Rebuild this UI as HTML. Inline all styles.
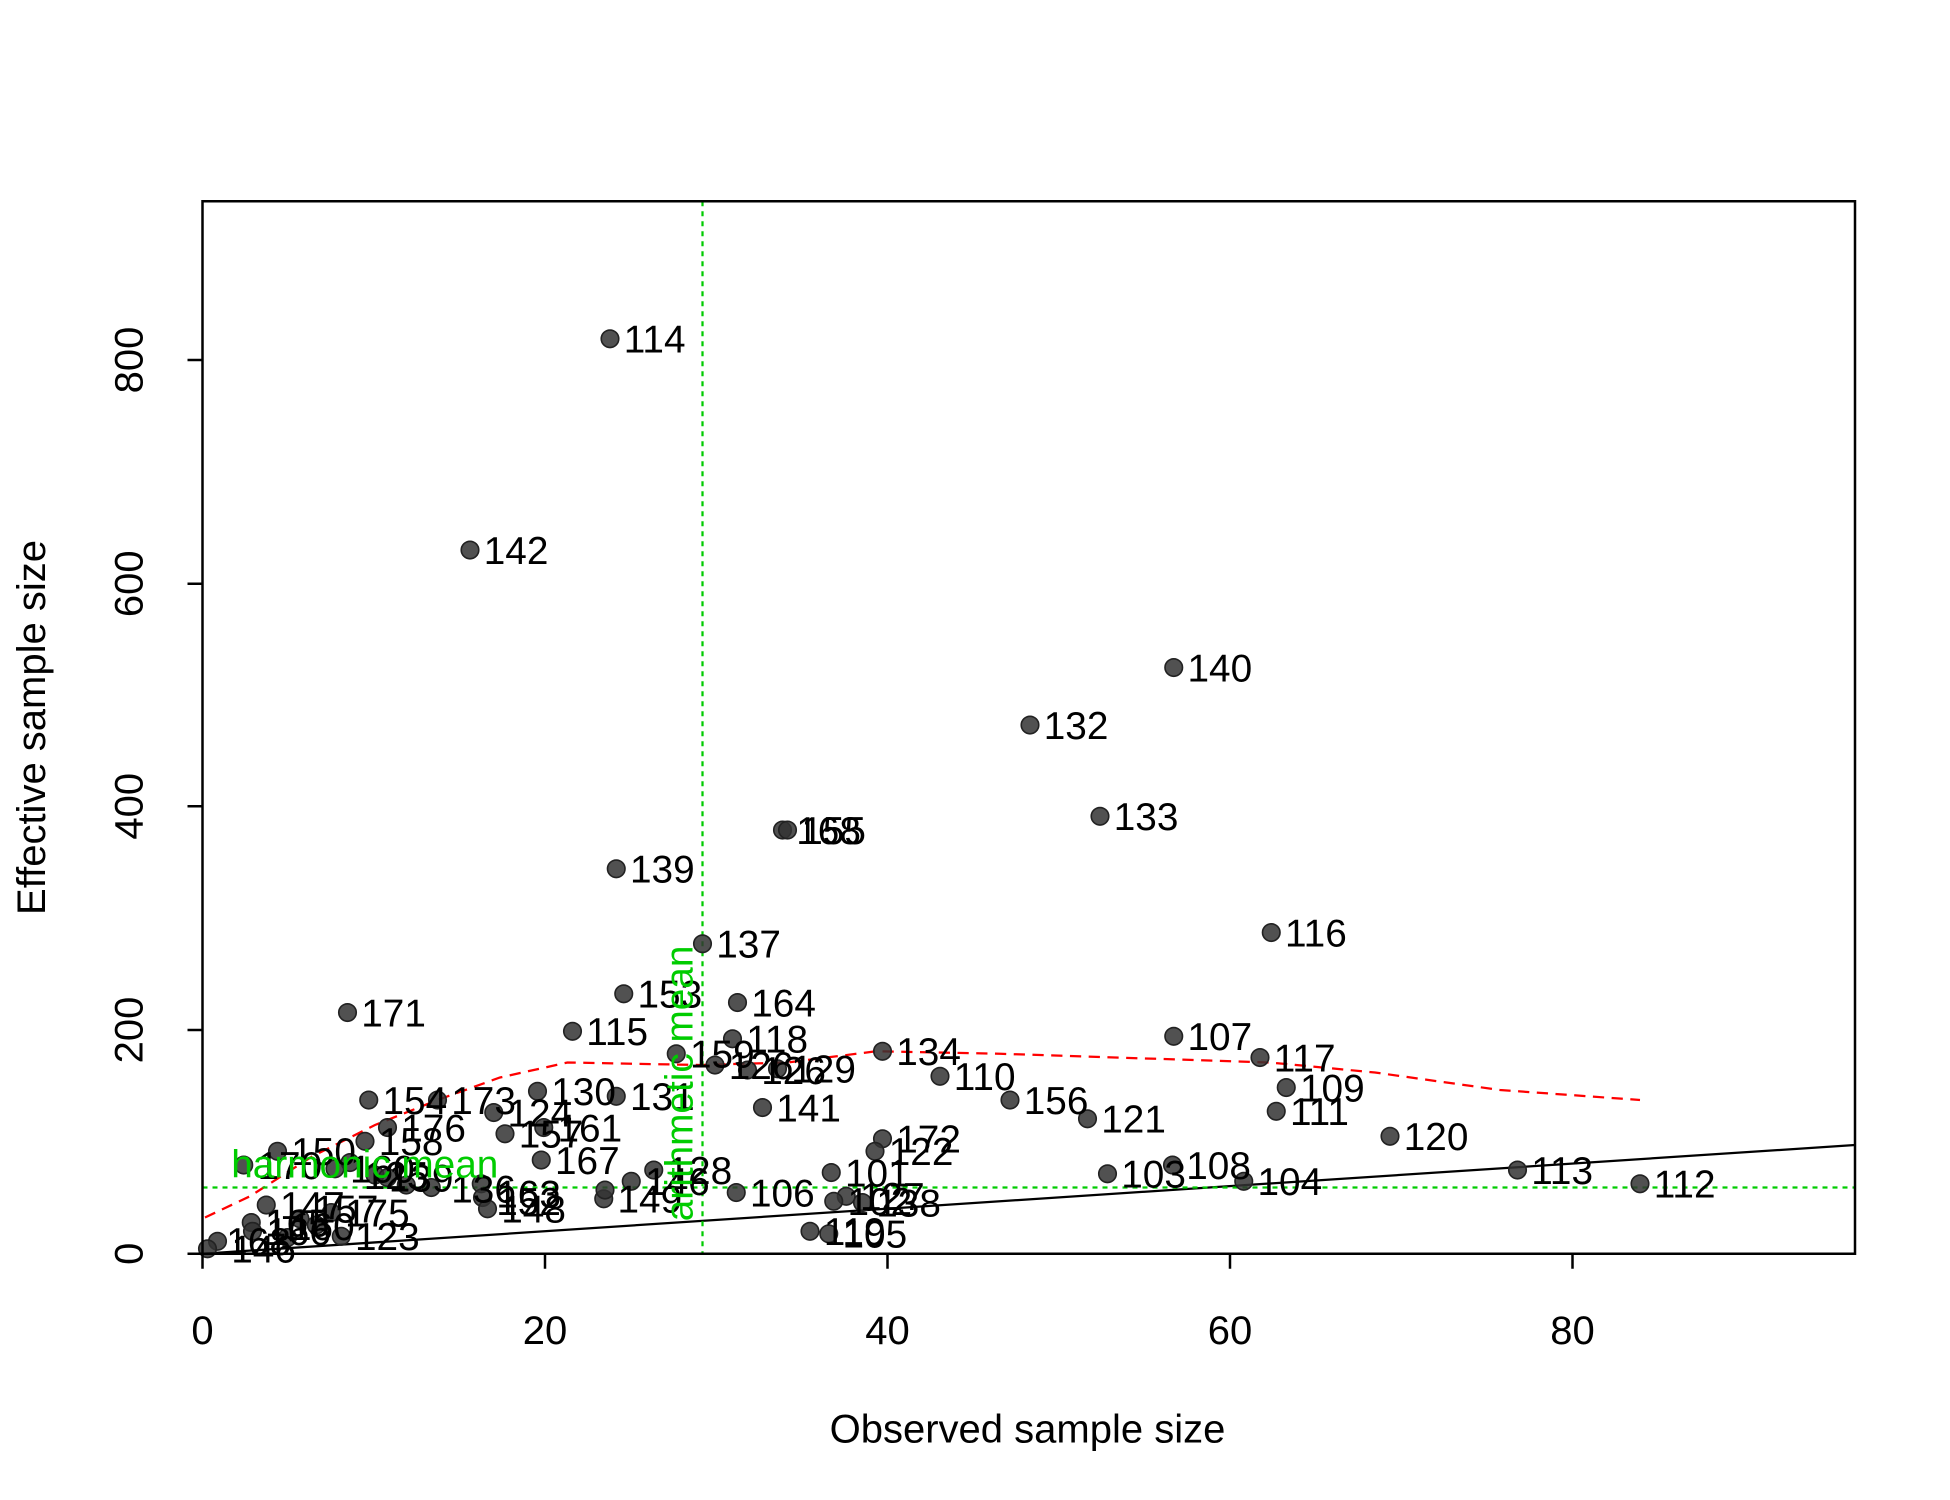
<!DOCTYPE html>
<html><head><meta charset="utf-8"><style>
html,body{margin:0;padding:0;background:#fff;}
svg{display:block;}
text{font-family:"Liberation Sans",Arial,sans-serif;}
</style></head><body>
<svg width="1950" height="1500" viewBox="0 0 1560 1200" xmlns="http://www.w3.org/2000/svg">
<rect width="1560" height="1200" fill="#fff"/>
<line x1="162" y1="1003" x2="1484" y2="916" stroke="#000" stroke-width="1.8"/>
<polyline fill="none" stroke="#ff0000" stroke-width="1.8" stroke-dasharray="9,6" points="164,974 200,957 250,925 300,900 350,880 400,862 454,850 560,852 630,850 701,841 800,843 1016,850 1100,858 1200,872 1312,880"/>
<line x1="162" y1="950" x2="1484" y2="950" stroke="#00cc00" stroke-width="1.8" stroke-dasharray="4,4"/>
<line x1="562" y1="161" x2="562" y2="1003" stroke="#00cc00" stroke-width="1.8" stroke-dasharray="4,4"/>
<g fill="#333" fill-opacity="0.85" stroke="#222" stroke-width="1.3">
<circle cx="488" cy="271" r="7"/><circle cx="376" cy="440" r="7"/><circle cx="939" cy="534" r="7"/>
<circle cx="824" cy="580" r="7"/><circle cx="880" cy="653" r="7"/><circle cx="626" cy="664" r="7"/>
<circle cx="630" cy="664" r="7"/><circle cx="493" cy="695" r="7"/><circle cx="562" cy="755" r="7"/>
<circle cx="1017" cy="746" r="7"/><circle cx="278" cy="810" r="7"/><circle cx="499" cy="795" r="7"/>
<circle cx="590" cy="802" r="7"/><circle cx="458" cy="825" r="7"/><circle cx="586" cy="831" r="7"/>
<circle cx="939" cy="829" r="7"/><circle cx="706" cy="841" r="7"/><circle cx="541" cy="843" r="7"/>
<circle cx="572" cy="852" r="7"/><circle cx="598" cy="856" r="7"/><circle cx="622" cy="855" r="7"/>
<circle cx="1008" cy="846" r="7"/><circle cx="752" cy="861" r="7"/><circle cx="1029" cy="870" r="7"/>
<circle cx="808" cy="880" r="7"/><circle cx="870" cy="895" r="7"/><circle cx="1021" cy="889" r="7"/>
<circle cx="1112" cy="909" r="7"/><circle cx="430" cy="873" r="7"/><circle cx="493" cy="877" r="7"/>
<circle cx="295" cy="880" r="7"/><circle cx="350" cy="880" r="7"/><circle cx="610" cy="886" r="7"/>
<circle cx="395" cy="890" r="7"/><circle cx="310" cy="902" r="7"/><circle cx="435" cy="902" r="7"/>
<circle cx="404" cy="907" r="7"/><circle cx="706" cy="911" r="7"/><circle cx="700" cy="921" r="7"/>
<circle cx="292" cy="913" r="7"/><circle cx="222" cy="921" r="7"/><circle cx="433" cy="928" r="7"/>
<circle cx="1214" cy="936" r="7"/><circle cx="886" cy="939" r="7"/><circle cx="938" cy="932" r="7"/>
<circle cx="665" cy="938" r="7"/><circle cx="523" cy="936" r="7"/><circle cx="505" cy="945" r="7"/>
<circle cx="995" cy="945" r="7"/><circle cx="1312" cy="947" r="7"/><circle cx="589" cy="954" r="7"/>
<circle cx="385" cy="947" r="7"/><circle cx="386" cy="958" r="7"/><circle cx="195" cy="932" r="7"/>
<circle cx="677" cy="957" r="7"/><circle cx="667" cy="961" r="7"/><circle cx="690" cy="962" r="7"/>
<circle cx="648" cy="985" r="7"/><circle cx="663" cy="987" r="7"/><circle cx="213" cy="964" r="7"/>
<circle cx="201" cy="978" r="7"/><circle cx="202" cy="985" r="7"/><circle cx="265" cy="970" r="7"/>
<circle cx="273" cy="989" r="7"/><circle cx="390" cy="967" r="7"/><circle cx="483" cy="959" r="7"/>
<circle cx="484" cy="952" r="7"/><circle cx="174" cy="993" r="7"/><circle cx="166" cy="999" r="7"/>
<circle cx="253" cy="980" r="7"/><circle cx="240" cy="975" r="7"/><circle cx="280" cy="930" r="7"/>
<circle cx="268" cy="935" r="7"/><circle cx="300" cy="940" r="7"/><circle cx="310" cy="942" r="7"/>
<circle cx="325" cy="948" r="7"/><circle cx="345" cy="950" r="7"/><circle cx="230" cy="990" r="7"/>
</g>
<g font-size="31" fill="#000">
<text x="499" y="282">114</text><text x="387" y="451">142</text><text x="950" y="545">140</text>
<text x="835" y="591">132</text><text x="891" y="664">133</text><text x="637" y="675">168</text>
<text x="641" y="675">155</text><text x="504" y="706">139</text><text x="573" y="766">137</text>
<text x="1028" y="757">116</text><text x="289" y="821">171</text><text x="510" y="806">153</text>
<text x="601" y="813">164</text><text x="469" y="836">115</text><text x="597" y="842">118</text>
<text x="950" y="840">107</text><text x="717" y="852">134</text><text x="552" y="854">159</text>
<text x="583" y="863">126</text><text x="609" y="867">126</text><text x="633" y="866">129</text>
<text x="1019" y="857">117</text><text x="763" y="872">110</text><text x="1040" y="881">109</text>
<text x="819" y="891">156</text><text x="881" y="906">121</text><text x="1032" y="900">111</text>
<text x="1123" y="920">120</text><text x="441" y="884">130</text><text x="504" y="888">131</text>
<text x="306" y="891">154</text><text x="361" y="891">173</text><text x="621" y="897">141</text>
<text x="406" y="901">124</text><text x="321" y="913">176</text><text x="446" y="913">161</text>
<text x="415" y="918">157</text><text x="717" y="922">172</text><text x="711" y="932">122</text>
<text x="303" y="924">158</text><text x="233" y="932">150</text><text x="444" y="939">167</text>
<text x="1225" y="947">113</text><text x="897" y="950">103</text><text x="949" y="943">108</text>
<text x="676" y="949">101</text><text x="534" y="947">128</text><text x="516" y="956">146</text>
<text x="1006" y="956">104</text><text x="1323" y="958">112</text><text x="600" y="965">106</text>
<text x="361" y="962">136</text><text x="397" y="966">163</text><text x="206" y="943">170</text>
<text x="688" y="968">127</text><text x="678" y="972">102</text><text x="701" y="973">138</text>
<text x="659" y="996">119</text><text x="674" y="998">105</text><text x="224" y="975">147</text>
<text x="212" y="989">165</text><text x="213" y="996">166</text><text x="276" y="981">175</text>
<text x="284" y="1000">123</text><text x="401" y="978">148</text><text x="397" y="972">152</text>
<text x="494" y="970">149</text><text x="185" y="1010">146</text><text x="181" y="1004">168</text>
<text x="251" y="978">157</text><text x="291" y="951">125</text><text x="311" y="953">139</text>
<text x="280" y="946">160</text><text x="232" y="992">160</text>
</g>
<text x="185" y="942" font-size="31" fill="#00cc00">harmonic mean</text>
<text transform="translate(554,977) rotate(-90)" font-size="31" fill="#00cc00">arithmetic mean</text>
<rect x="162" y="161" width="1322" height="842" fill="none" stroke="#000" stroke-width="2"/>
<g stroke="#000" stroke-width="2">
<line x1="162" y1="1003" x2="1258" y2="1003"/>
<line x1="162" y1="1003" x2="162" y2="1015"/><line x1="436" y1="1003" x2="436" y2="1015"/>
<line x1="710" y1="1003" x2="710" y2="1015"/><line x1="984" y1="1003" x2="984" y2="1015"/>
<line x1="1258" y1="1003" x2="1258" y2="1015"/>
<line x1="150" y1="1003" x2="162" y2="1003"/><line x1="150" y1="824" x2="162" y2="824"/>
<line x1="150" y1="645" x2="162" y2="645"/><line x1="150" y1="467" x2="162" y2="467"/>
<line x1="150" y1="288" x2="162" y2="288"/>
</g>
<g font-size="32" fill="#000" text-anchor="middle">
<text x="162" y="1075">0</text><text x="436" y="1075">20</text><text x="710" y="1075">40</text>
<text x="984" y="1075">60</text><text x="1258" y="1075">80</text>
<text transform="translate(114,1003) rotate(-90)">0</text>
<text transform="translate(114,824) rotate(-90)">200</text>
<text transform="translate(114,645) rotate(-90)">400</text>
<text transform="translate(114,467) rotate(-90)">600</text>
<text transform="translate(114,288) rotate(-90)">800</text>
<text x="822" y="1154">Observed sample size</text>
<text transform="translate(36,582) rotate(-90)">Effective sample size</text>
</g>
</svg>
</body></html>
